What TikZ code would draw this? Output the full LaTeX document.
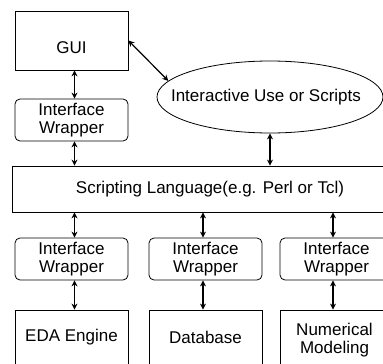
\documentclass[tikz,border=0pt]{standalone}
\usepackage{fontspec}
\setmainfont{Liberation Sans}
\usetikzlibrary{arrows.meta,shapes.geometric,calc}
\begin{document}
\begin{tikzpicture}[x=1pt,y=-1pt,
  every node/.style={font=\fontsize{17}{18}\selectfont},
  box/.style={draw,line width=0.8pt,minimum width=113pt,inner sep=0pt},
  rbox/.style={box,rounded corners=5pt,minimum height=42pt,align=center},
  lbl/.style={inner sep=0pt,align=center},
  dar/.style={{Stealth[length=6pt,width=6pt]}-{Stealth[length=6pt,width=6pt]},line width=1.2pt}]
\useasboundingbox (0,0) rectangle (383,364);
\clip (0,0) rectangle (383,364);
% top
\node[box,minimum height=59pt] (gui) at (71.5,40.5) {};
\node[lbl] (guit) at (71.5,48) {GUI};
\node[rbox] (iw0) at (71.5,120) {Interface\\Wrapper};
\node[draw,ellipse,line width=0.8pt,minimum width=226pt,minimum height=72pt,inner sep=0pt] (ell) at (270,97) {};
\node[lbl] (ellt) at (266,97) {Interactive Use or Scripts};
\node[box,minimum width=400pt,minimum height=46pt] (sl) at (212,189) {};
\node[lbl] (slt) at (210,189) {Scripting Language(e.g. Perl or Tcl)};
% bottom wrappers
\node[rbox] (iw1) at (71.5,259) {Interface\\Wrapper};
\node[rbox] (iw2) at (205.5,259) {Interface\\Wrapper};
\node[rbox] (iw3) at (336.5,259) {Interface\\Wrapper};
% bottom boxes
\node[box,minimum height=59pt] (eda) at (71.5,339.5) {};
\node[box,minimum height=59pt] (db) at (205.5,339.5) {};
\node[box,minimum height=59pt] (num) at (336.5,339.5) {};
\node[lbl] (edat) at (71.5,337) {EDA Engine};
\node[lbl] (dbt) at (205.5,337) {Database};
\node[lbl] (numt) at (334.5,340) {Numerical\\Modeling};
% arrows
\draw[dar] ([xshift=3pt]gui.south) -- ([xshift=3pt]iw0.north);
\draw[dar] ([xshift=3pt]iw0.south) -- ([xshift=3pt]iw0.south |- sl.north);
\draw[dar] (gui.east) -- (ell.171);
\draw[dar] (ell.south) -- (ell.south |- sl.north);
\draw[dar] ([xshift=3pt]iw1.north |- sl.south) -- ([xshift=3pt]iw1.north);
\draw[dar] ([xshift=-2.5pt]iw2.north |- sl.south) -- ([xshift=-2.5pt]iw2.north);
\draw[dar] ([xshift=-3.5pt]iw3.north |- sl.south) -- ([xshift=-3.5pt]iw3.north);
\draw[dar] ([xshift=3pt]iw1.south) -- ([xshift=3pt]eda.north);
\draw[dar] ([xshift=-2.5pt]iw2.south) -- ([xshift=-2.5pt]db.north);
\draw[dar] ([xshift=-3.5pt]iw3.south) -- ([xshift=-3.5pt]num.north);
\end{tikzpicture}
\end{document}
